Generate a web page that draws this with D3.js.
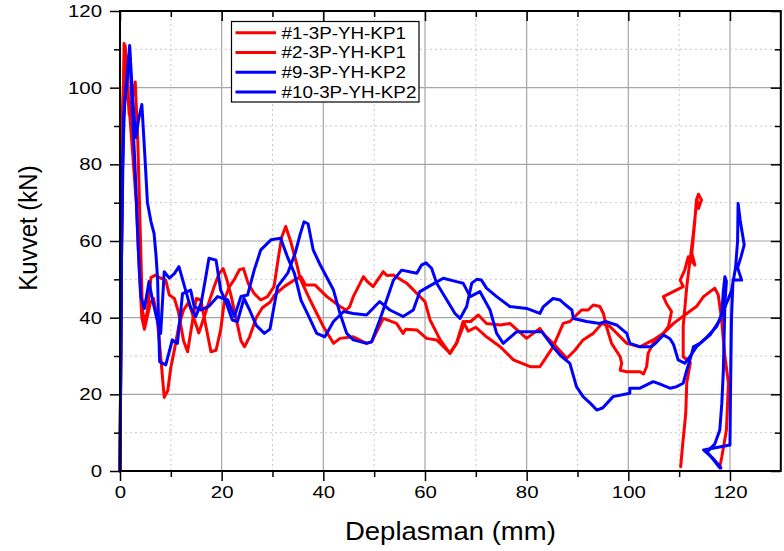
<!DOCTYPE html>
<html>
<head>
<meta charset="utf-8">
<script src="https://cdn.jsdelivr.net/npm/d3@7"></script>
<style>
  body { margin: 0; background: #fff; }
  svg { display: block; }
  text { font-family: "Liberation Sans", Arial, Helvetica, sans-serif; fill: #000; }
</style>
</head>
<body>
<svg id="chart" width="784" height="551"></svg>
<script>
// Load–displacement records: [displacement (mm), force (kN)]
const seriesNames = ["#1-3P-YH-KP1", "#2-3P-YH-KP1", "#9-3P-YH-KP2", "#10-3P-YH-KP2"];
const seriesColors = ["#ff0000", "#ff0000", "#0000ff", "#0000ff"];

const specimen1 = [
  [0,0],[0.3,60],[0.8,111.5],[1.3,107],[1.8,93],[2.4,97],[3.0,101.5],[3.5,86],[4.0,62],[4.4,42],[4.9,38.5],
  [5.4,42],[6.1,50.5],[7.0,51.1],[8.0,50.3],[9.0,49.8],[9.7,45.9],[10.7,45],[11.5,41.5],[12.5,34],[13.3,31.1],
  [14.3,39.4],[15.0,45],[15.9,44.6],[16.8,38.5],[17.9,31.1],[18.9,31.5],[19.8,36.8],[20.6,45],[21.5,48],
  [22.5,50],[23.5,52.5],[24.3,52.8],[25.2,49],[26.4,46.3],[27.7,44.6],[29.0,45.5],[30.3,48.1],[31.2,56],
  [31.8,61],[32.6,63.8],[33.6,59.8],[34.9,53.3],[35.4,50.3],[37.4,44.6],[40.0,37.7],[42.0,33.3],[43.3,34.6],
  [45.9,35],[48.5,33.3],[49.5,33.7],[51.8,39.8],[54.4,38.5],[55.7,35.9],[56.2,37],[58.4,36.8],[60.3,34.6],
  [62.3,34.2],[64.3,31.6],[64.9,30.7],[66.2,33.3],[67.5,39],[68.5,36.5],[70,37.5],[72.1,35],[74.8,32.4],
  [77.4,29],[80.7,27.2],[82.6,27.2],[85.2,32.4],[87.2,38.5],[88.5,39],[90.8,42],[92.1,42],[93.1,43.3],
  [94.4,42.9],[95.1,41.1],[95.7,37.7],[96.7,33.3],[98.4,29.8],[98.7,28.1],[98.4,26.3],[99.7,25.9],[102.3,25.9],
  [103,25.3],[103.6,27.2],[103.9,30.7],[105.2,34.2],[106.9,35.9],[107.9,37.7],[108.5,41.6],[107.5,43.7],
  [106.9,45.5],[110.8,48.1],[110.2,49.8],[111.1,52.4],[111.8,55.9],[113.1,53.7],[112.5,56.8],[113.1,65.5],
  [113.4,70.7],[113.8,72.2],[114.4,70.7],[113.8,68.5],[113.5,71],[112.8,62],[111.5,48.1],[110.8,37.7],
  [110.8,29.8],[112.2,28.3],[111.5,23],[111.3,15],[110.7,7],[110.3,1.1]
];

const specimen2 = [
  [0,0],[0.5,95],[1.0,111],[1.5,100],[2.2,88],[3.2,70],[3.8,52],[4.3,40],[4.8,37],[5.4,40.5],[6.0,44],
  [6.6,45],[7.3,40],[8.0,30],[8.7,19.2],[9.4,21],[10.0,27],[10.7,31.6],[11.6,38],[12.5,42],[13.5,44],
  [14.5,40],[15.5,36],[16.5,40],[17.5,44],[18.5,48],[19.5,51.5],[20.3,52.8],[21,50],[21.8,46],[22.8,40],
  [23.8,34],[24.5,32.4],[25.5,35],[26.8,40],[28,42.6],[29.5,44],[30.5,46],[32.3,48.1],[34.3,49.8],[35.6,50.7],
  [36.5,48.5],[38.4,48.5],[40.7,45.5],[43.3,42.9],[44.5,42],[45.2,42.9],[45.9,45.5],[47.9,50.7],[48.6,49.5],
  [49.8,48.1],[51.8,52],[52.5,51],[53.8,51.1],[56.4,49],[58.7,45.9],[60,44.2],[61,39.4],[63,34.2],[64.9,30.7],
  [66.2,33.3],[67.9,39],[69,39],[70.5,40.7],[72.1,38.5],[74.8,38.1],[76.7,38.5],[80,34.6],[82.6,37.2],
  [83.5,35.5],[85.2,33.3],[87.9,29.4],[89.5,31.5],[91.1,34.2],[93.1,35.9],[94.8,38.5],[96.4,37.7],[99.7,33.3],
  [102.3,32.4],[104.9,34.2],[106.9,35.9],[108.9,38.5],[111.5,41.1],[113.4,42.9],[114.8,45.5],[117,47.7],
  [117.7,45.9],[118.3,40],[119,30],[119.7,22.9],[119.3,10.7],[118.4,3.7],[118,1.1]
];

const specimen9 = [
  [0,0],[0.3,55],[0.7,92],[1.2,100],[1.9,111],[2.5,97],[3.1,87],[3.7,92],[4.3,95.6],[4.9,82],[5.4,70],
  [6.1,65],[6.7,62],[7.1,56],[7.4,50],[7.6,38],[7.8,28.5],[9.0,27.7],[10.3,34.2],[11.3,33.3],[12.3,46.3],
  [13.9,47.2],[14.6,42.9],[15.9,42],[17.5,43],[19.2,45.5],[21.2,44.6],[22.5,40.3],[23.8,45.5],[25.1,45.9],
  [26.4,52.4],[27.7,57.7],[29.7,60.3],[31.6,60.7],[32.9,56],[34.3,51.6],[35.6,44.6],[36.9,41],[38.7,35.9],
  [40.3,35],[42,39],[44,41.6],[45.9,41.1],[48.5,40.7],[51.1,44.2],[53.1,42],[55.7,40.3],[57.7,42],[59,46.8],
  [60.7,48.1],[63.6,50.3],[66.2,49.4],[67.5,49],[68.9,45.5],[70.8,46.8],[72.8,42],[74.1,35.9],[75.4,33.3],
  [78,36.3],[80.7,36.3],[83,36.3],[85.2,32.4],[86.6,30.2],[88.5,28.1],[89.8,22],[91.1,19.4],[92.5,17.7],
  [93.8,15.9],[95,16.5],[97,19.4],[100.3,20.3],[100.3,21.6],[102.3,21.6],[104.9,23.3],[106,22.8],[108.2,21.6],
  [109.5,22],[110.8,22.9],[111.5,26.3],[112.5,30.7],[112.8,32.4],[114.1,33.3],[116.1,35.5],[118,39.4],
  [119.3,43.7],[120.3,47],[121.1,53],[121.5,60],[121.6,69.8],[122,65.5],[122.8,59],[122.2,56],[121.5,53],
  [122.3,49.8],[120.6,49.8],[120.3,40],[120.1,20],[120,6.8],[114.8,5.5],[116.5,3.5],[117.7,1.7],[118.2,0.8]
];

const specimen10 = [
  [0,0],[0.4,75],[0.9,96],[1.5,104],[1.9,109],[2.4,95],[3.0,78],[3.6,58],[4.1,45.5],[4.8,42.4],[5.7,49.4],
  [6.4,44.6],[7.2,40],[8.0,35.9],[8.7,52],[9.7,50.3],[10.7,51.5],[11.6,53.3],[12.9,47.2],[13.8,43],[14.9,40.3],
  [16,44],[16.8,50],[17.5,55.5],[18.9,55],[19.8,47.2],[20.8,44.2],[22.1,39.4],[23.1,39],[24.4,45],[25.5,42],
  [26.8,38],[28.4,35.9],[29.5,37],[31,48.1],[33,51.6],[34.5,57],[35.5,62],[36.2,65],[37,64.5],[38,57.7],
  [39.3,54],[42,47.2],[43.3,41],[44.6,35.9],[45.9,34.2],[48.5,33.3],[49.5,33.7],[51.1,39.4],[52.3,44],
  [53.8,49.8],[55.4,52.4],[58.4,51.6],[59.3,53.7],[60.2,54.3],[61.3,52.9],[62.3,49],[64.3,44.6],[65.9,41.1],
  [66.9,39.8],[68.2,42.9],[69.2,49],[70.2,50],[71.1,49.8],[72.1,47.7],[74.1,45.5],[76.7,42.9],[80,42.4],
  [82.6,41.1],[83.3,42.9],[85.2,45],[86.6,44.6],[87.5,43.5],[88.9,42],[89.2,39.8],[91.8,39],[94.4,38.5],
  [95.5,39],[97.7,38.1],[99.7,35.9],[100.3,33.3],[102.3,32.4],[104.5,32.4],[105.5,33.5],[106.9,35.5],
  [108.2,34.5],[108.9,33],[109.8,29],[111.1,28.1],[112.1,29.8],[113.4,32.4],[115.5,35],[117.4,37.7],
  [118.4,41.1],[118.7,47],[119,50.7],[119.3,49.5],[119,43.7],[118.7,26.3],[118.4,17.7],[118,10.7],[117,7],
  [115.5,5],[117,2.5],[118,0.8]
];

const seriesData = [specimen1, specimen2, specimen9, specimen10];

const xMajorTicks = [0, 20, 40, 60, 80, 100, 120];
const xMinorTicks = [10, 30, 50, 70, 90, 110, 130];
const yMajorTicks = [0, 20, 40, 60, 80, 100, 120];
const yMinorTicks = [10, 30, 50, 70, 90, 110];
const xTitle = "Deplasman (mm)";
const yTitle = "Kuvvet (kN)";

// ---------------------------------------------------------------------------
const svg = d3.select("#chart");
const x = d3.scaleLinear().domain([0, 130]).range([120, 780.8]);
const y = d3.scaleLinear().domain([0, 120]).range([471, 11]);
const [x0, x1] = x.range();
const [y0, y1] = y.range();

// widen glyphs horizontally like the original export
function widen(sel, k) {
  sel.each(function () {
    const len = this.getComputedTextLength();
    this.setAttribute("textLength", len * k);
    this.setAttribute("lengthAdjust", "spacingAndGlyphs");
  });
}

// grid
const grid = svg.append("g");
grid.selectAll(".vmaj").data(xMajorTicks.filter(d => d > 0)).join("line")
  .attr("x1", d => x(d)).attr("x2", d => x(d)).attr("y1", y0).attr("y2", y1)
  .attr("stroke", "#a6a6a6").attr("stroke-width", 1.2);
grid.selectAll(".hmaj").data(yMajorTicks.filter(d => d > 0 && d < 120)).join("line")
  .attr("x1", x0).attr("x2", x1).attr("y1", d => y(d)).attr("y2", d => y(d))
  .attr("stroke", "#a6a6a6").attr("stroke-width", 1.2);
grid.selectAll(".vmin").data(xMinorTicks.filter(d => d < 130)).join("line")
  .attr("x1", d => x(d)).attr("x2", d => x(d)).attr("y1", y0).attr("y2", y1)
  .attr("stroke", "#c8c8c8").attr("stroke-width", 1).attr("stroke-dasharray", "2,3");
grid.selectAll(".hmin").data(yMinorTicks).join("line")
  .attr("x1", x0).attr("x2", x1).attr("y1", d => y(d)).attr("y2", d => y(d))
  .attr("stroke", "#c8c8c8").attr("stroke-width", 1).attr("stroke-dasharray", "2,3");

// curves
const line = d3.line().x(d => x(d[0])).y(d => y(d[1]));
svg.append("g").selectAll("path").data(seriesData).join("path")
  .attr("d", line)
  .attr("fill", "none")
  .attr("stroke", (d, i) => seriesColors[i])
  .attr("stroke-width", 3)
  .attr("stroke-linejoin", "round")
  .attr("stroke-linecap", "round");

// axes
function styleAxis(g) {
  g.select(".domain").remove();
  g.selectAll(".tick line").attr("stroke", "#000").attr("stroke-width", 1.5);
}
const fmt = d3.format("d");
const left = svg.append("g").attr("transform", `translate(${x0},0)`)
  .call(d3.axisLeft(y).tickValues(yMajorTicks).tickSize(10).tickPadding(8).tickFormat(fmt));
styleAxis(left);
left.selectAll("text").attr("font-size", 17).call(widen, 1.2);
svg.append("g").attr("transform", `translate(${x0},0)`)
  .call(d3.axisLeft(y).tickValues(yMinorTicks).tickSize(6).tickFormat("")).call(styleAxis);

const bottom = svg.append("g").attr("transform", `translate(0,${y0})`)
  .call(d3.axisBottom(x).tickValues(xMajorTicks).tickSize(10).tickPadding(5).tickFormat(fmt));
styleAxis(bottom);
bottom.selectAll("text").attr("font-size", 17).call(widen, 1.2);
svg.append("g").attr("transform", `translate(0,${y0})`)
  .call(d3.axisBottom(x).tickValues(xMinorTicks.filter(d => d < 130)).tickSize(6).tickFormat("")).call(styleAxis);

svg.append("g").attr("transform", `translate(0,${y1})`)
  .call(d3.axisBottom(x).tickValues(xMajorTicks).tickSize(10).tickFormat("")).call(styleAxis);
svg.append("g").attr("transform", `translate(0,${y1})`)
  .call(d3.axisBottom(x).tickValues(xMinorTicks.filter(d => d < 130)).tickSize(6).tickFormat("")).call(styleAxis);
svg.append("g").attr("transform", `translate(${x1},0)`)
  .call(d3.axisLeft(y).tickValues(yMajorTicks).tickSize(10).tickFormat("")).call(styleAxis);
svg.append("g").attr("transform", `translate(${x1},0)`)
  .call(d3.axisLeft(y).tickValues(yMinorTicks).tickSize(6).tickFormat("")).call(styleAxis);

// frame
svg.append("rect").attr("x", x0).attr("y", y1).attr("width", x1 - x0).attr("height", y0 - y1)
  .attr("fill", "none").attr("stroke", "#000").attr("stroke-width", 2);

// titles
svg.append("text").attr("x", (x0 + x1) / 2 + 0).attr("y", 540)
  .attr("text-anchor", "middle").attr("font-size", 25).text(xTitle).call(widen, 1.1);
svg.append("text").attr("transform", "translate(37,228) scale(1.1,1) rotate(-90)")
  .attr("text-anchor", "middle").attr("font-size", 24).text(yTitle);

// legend
const legend = svg.append("g").attr("transform", "translate(231.5,21.5)");
legend.append("rect").attr("width", 187.5).attr("height", 80.5)
  .attr("fill", "#fff").attr("stroke", "#000").attr("stroke-width", 1.2);
const item = legend.selectAll(".item").data(seriesNames).join("g")
  .attr("transform", (d, i) => `translate(0,${11.2 + i * 19.8})`);
item.append("line").attr("x1", 4).attr("x2", 44.5)
  .attr("stroke", (d, i) => seriesColors[i]).attr("stroke-width", 3);
item.append("text").attr("x", 50).attr("y", 5.8).attr("font-size", 16.5).text(d => d).call(widen, 1.14);
</script>
</body>
</html>
